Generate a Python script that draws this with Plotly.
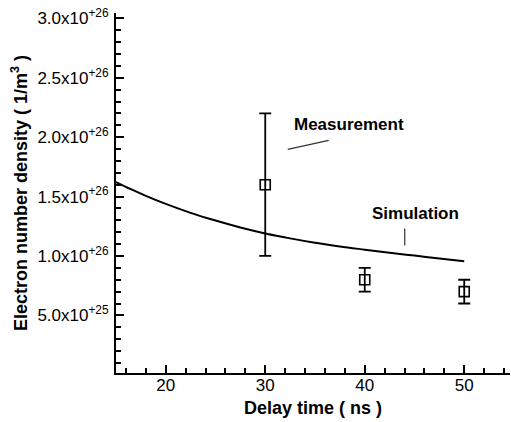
import plotly.graph_objects as go

# Simulated electron number density (1/m^3) versus delay time (ns)
sim_time = [15, 16.5, 18, 20, 22.5, 25, 27.5, 30, 32.5, 35, 37.5, 40, 42.5, 45, 47.5, 50]
sim_density = [1.622e26, 1.562e26, 1.506e26, 1.438e26, 1.363e26, 1.298e26, 1.240e26, 1.190e26,
               1.148e26, 1.111e26, 1.080e26, 1.053e26, 1.027e26, 1.003e26, 0.979e26, 0.956e26]

# Measured density with lower / upper bounds
meas_time = [30, 40, 50]
meas_density = [1.6e26, 0.8e26, 0.7e26]
meas_low = [1.0e26, 0.7e26, 0.6e26]
meas_high = [2.2e26, 0.9e26, 0.8e26]

y_tickvals = [0.5e26, 1.0e26, 1.5e26, 2.0e26, 2.5e26, 3.0e26]
y_ticktext = ["5.0x10<sup>+25</sup>", "1.0x10<sup>+26</sup>", "1.5x10<sup>+26</sup>",
              "2.0x10<sup>+26</sup>", "2.5x10<sup>+26</sup>", "3.0x10<sup>+26</sup>"]
x_tickvals = [20, 30, 40, 50]

FONT = "Arial, Liberation Sans, sans-serif"

fig = go.Figure()

fig.add_trace(go.Scatter(
    x=sim_time, y=sim_density, mode="lines",
    line=dict(color="black", width=2, shape="spline", smoothing=1),
    showlegend=False, hoverinfo="skip",
))

fig.add_trace(go.Scatter(
    x=meas_time, y=meas_density, mode="markers",
    marker=dict(symbol="square-open", size=10, color="black", line=dict(width=1.6)),
    error_y=dict(
        type="data", symmetric=False,
        array=[h - m for h, m in zip(meas_high, meas_density)],
        arrayminus=[m - l for m, l in zip(meas_density, meas_low)],
        color="black", thickness=1.8, width=6,
    ),
    showlegend=False,
))

# Labels with leader lines
fig.add_annotation(x=38.44, y=2.108e26, text="<b>Measurement</b>", showarrow=False,
                   font=dict(family=FONT, size=17, color="black"))
fig.add_annotation(x=45.13, y=1.359e26, text="<b>Simulation</b>", showarrow=False,
                   font=dict(family=FONT, size=17, color="black"))
fig.add_shape(type="line", x0=32.26, y0=1.897e26, x1=36.38, y1=1.973e26,
              line=dict(color="#333", width=1.2))
fig.add_shape(type="line", x0=44.02, y0=1.232e26, x1=44.02, y1=1.089e26,
              line=dict(color="#333", width=1.2))

# Axis titles
fig.add_annotation(xref="paper", yref="paper", x=0.5, y=-0.098, xanchor="center", yanchor="middle",
                   text="<b>Delay time ( ns )</b>", showarrow=False,
                   font=dict(family=FONT, size=18, color="black"))
fig.add_annotation(xref="paper", yref="paper", x=-0.246, y=0.5, xanchor="center", yanchor="middle",
                   textangle=-90,
                   text="<b>Electron number density ( 1/m<sup>3</sup> )</b>", showarrow=False,
                   font=dict(family=FONT, size=18, color="black"))

fig.update_xaxes(
    range=[15, 54.6], tickmode="array", tickvals=x_tickvals,
    ticks="inside", ticklen=8, tickwidth=2, tickcolor="black", ticklabelstandoff=-4,
    minor=dict(tickmode="linear", tick0=0, dtick=2, ticks="inside", ticklen=5,
               tickwidth=1.5, tickcolor="black", showgrid=False),
    showline=True, linecolor="black", linewidth=2, showgrid=False, zeroline=False,
    tickfont=dict(family=FONT, size=17, color="black"),
)
fig.update_yaxes(
    range=[0.015e26, 3.045e26], tickmode="array", tickvals=y_tickvals, ticktext=y_ticktext,
    ticks="inside", ticklen=8, tickwidth=2, tickcolor="black", ticklabelstandoff=2,
    minor=dict(tickmode="linear", tick0=0, dtick=0.1e26, ticks="inside", ticklen=5,
               tickwidth=1.5, tickcolor="black", showgrid=False),
    showline=True, linecolor="black", linewidth=2, showgrid=False, zeroline=False,
    tickfont=dict(family=FONT, size=17, color="black"),
)

fig.update_layout(
    width=511, height=422,
    margin=dict(l=116, r=1, t=13, b=49),
    paper_bgcolor="white", plot_bgcolor="white",
    font=dict(family=FONT, color="black"),
)

fig.write_html("out.html")
